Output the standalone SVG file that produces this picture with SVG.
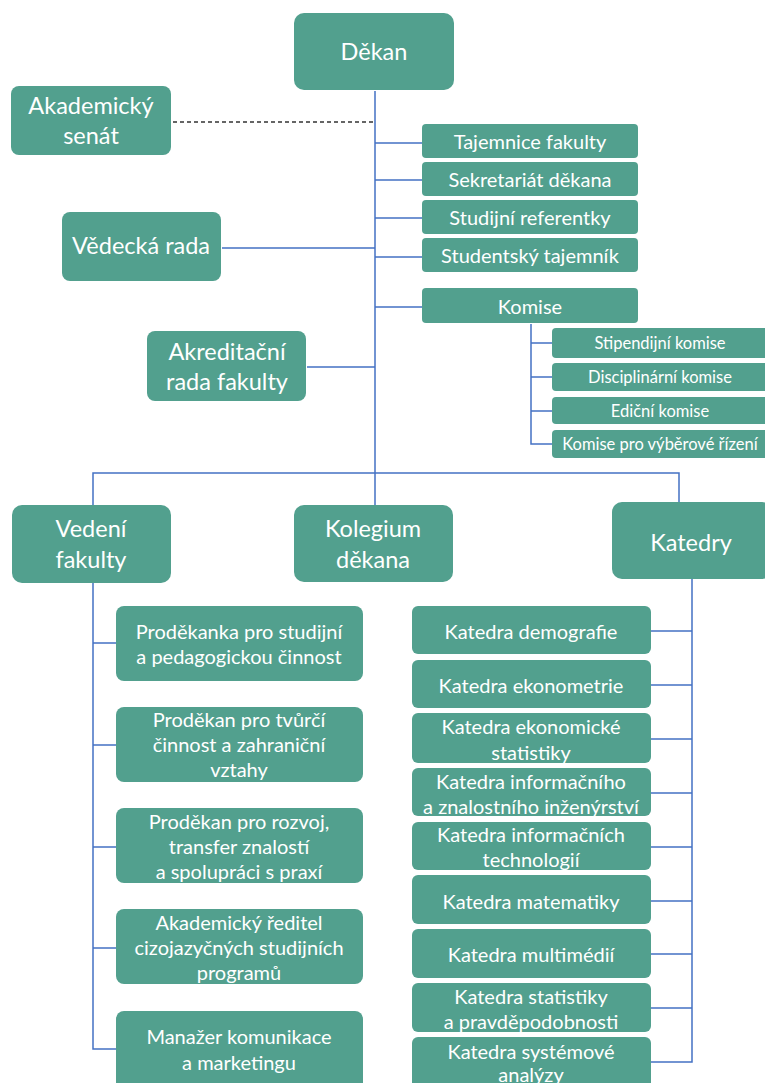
<svg xmlns="http://www.w3.org/2000/svg" width="765" height="1083" viewBox="0 0 765 1083">
<style>
.n{fill:#52A08E}
.t{fill:#fff;font-family:Lato,"Liberation Sans",sans-serif;text-anchor:middle}
.L{font-size:23.5px}
.M{font-size:20px}
.S{font-size:16.5px}
.c{stroke:#4472C4;stroke-width:1.5;fill:none}
</style>
<rect width="765" height="1083" fill="#fff"/>
<g id="connectors">
<path class="c" d="M375 91V505M222 248H375M307 367H375M375 143H422M375 180H422M375 218H422M375 257H422M375 307H422"/>
<path class="c" d="M531 324V444H552M531 343H552M531 377H552M531 411H552"/>
<path class="c" d="M93 505V473H679V502"/>
<path class="c" d="M93 583V1049H116M93 643H116M93 745H116M93 847H116M93 948H116"/>
<path class="c" d="M692 579V1062H651M651 631H692M651 685H692M651 739H692M651 793H692M651 847H692M651 901H692M651 954H692M651 1008H692"/>
<path d="M173 122H374" stroke="#333" stroke-width="1.5" stroke-dasharray="4 3" fill="none"/>
</g>
<g id="dekan"><rect class="n" x="294" y="13" width="160" height="77" rx="10"/><text class="t L" x="374" y="60">Děkan</text></g>
<g id="senat"><rect class="n" x="11" y="86" width="160" height="69" rx="8"/><text class="t L" x="91" y="114">Akademický</text><text class="t L" x="91" y="144">senát</text></g>
<g id="vedecka"><rect class="n" x="62" y="212" width="159" height="69" rx="8"/><text class="t L" x="141" y="254">Vědecká rada</text></g>
<g id="akreditacni"><rect class="n" x="147" y="331" width="159" height="70" rx="8"/><text class="t L" x="227" y="360">Akreditační</text><text class="t L" x="227" y="390">rada fakulty</text></g>
<g id="tajemnice"><rect class="n" x="422" y="124" width="216" height="34" rx="4"/><text class="t M" x="530" y="149">Tajemnice fakulty</text></g>
<g id="sekretariat"><rect class="n" x="422" y="162" width="216" height="34" rx="4"/><text class="t M" x="530" y="187">Sekretariát děkana</text></g>
<g id="referentky"><rect class="n" x="422" y="200" width="216" height="34" rx="4"/><text class="t M" x="530" y="225">Studijní referentky</text></g>
<g id="studtaj"><rect class="n" x="422" y="238" width="216" height="34" rx="4"/><text class="t M" x="530" y="263">Studentský tajemník</text></g>
<g id="komise"><rect class="n" x="422" y="288" width="216" height="35" rx="4"/><text class="t M" x="530" y="314">Komise</text></g>
<g id="stipendijni"><rect class="n" x="552" y="328" width="218" height="30" rx="4"/><text class="t S" x="660" y="349">Stipendijní komise</text></g>
<g id="disciplinarni"><rect class="n" x="552" y="363" width="218" height="28" rx="4"/><text class="t S" x="660" y="383">Disciplinární komise</text></g>
<g id="edicni"><rect class="n" x="552" y="397" width="218" height="27" rx="4"/><text class="t S" x="660" y="417">Ediční komise</text></g>
<g id="vyberove"><rect class="n" x="552" y="430" width="218" height="28" rx="4"/><text class="t S" x="660" y="450">Komise pro výběrové řízení</text></g>
<g id="vedeni"><rect class="n" x="12" y="505" width="159" height="78" rx="10"/><text class="t L" x="91" y="537">Vedení</text><text class="t L" x="91" y="568">fakulty</text></g>
<g id="kolegium"><rect class="n" x="294" y="505" width="159" height="77" rx="10"/><text class="t L" x="373" y="537">Kolegium</text><text class="t L" x="373" y="568">děkana</text></g>
<g id="katedry"><rect class="n" x="612" y="502" width="160" height="77" rx="10"/><text class="t L" x="691" y="551">Katedry</text></g>
<g id="v1"><rect class="n" x="116" y="606" width="247" height="75" rx="8"/><text class="t M" x="239" y="639">Proděkanka pro studijní</text><text class="t M" x="239" y="664">a pedagogickou činnost</text></g>
<g id="v2"><rect class="n" x="116" y="707" width="247" height="75" rx="8"/><text class="t M" x="239" y="727">Proděkan pro tvůrčí</text><text class="t M" x="239" y="752">činnost a zahraniční</text><text class="t M" x="239" y="777">vztahy</text></g>
<g id="v3"><rect class="n" x="116" y="808" width="247" height="75" rx="8"/><text class="t M" x="239" y="829">Proděkan pro rozvoj,</text><text class="t M" x="239" y="854">transfer znalostí</text><text class="t M" x="239" y="879">a spolupráci s praxí</text></g>
<g id="v4"><rect class="n" x="116" y="909" width="247" height="75" rx="8"/><text class="t M" x="239" y="930">Akademický ředitel</text><text class="t M" x="239" y="955">cizojazyčných studijních</text><text class="t M" x="239" y="980">programů</text></g>
<g id="v5"><rect class="n" x="116" y="1011" width="247" height="80" rx="8"/><text class="t M" x="239" y="1044">Manažer komunikace</text><text class="t M" x="239" y="1070">a marketingu</text></g>
<g id="k1"><rect class="n" x="412" y="606" width="239" height="48" rx="6"/><text class="t M" x="531" y="639">Katedra demografie</text></g>
<g id="k2"><rect class="n" x="412" y="660" width="239" height="48" rx="6"/><text class="t M" x="531" y="693">Katedra ekonometrie</text></g>
<g id="k3"><rect class="n" x="412" y="713" width="239" height="50" rx="6"/><text class="t M" x="531" y="734">Katedra ekonomické</text><text class="t M" x="531" y="760">statistiky</text></g>
<g id="k4"><rect class="n" x="412" y="768" width="239" height="48" rx="6"/><text class="t M" x="531" y="789">Katedra informačního</text><text class="t M" x="531" y="814">a znalostního inženýrství</text></g>
<g id="k5"><rect class="n" x="412" y="822" width="239" height="48" rx="6"/><text class="t M" x="531" y="842">Katedra informačních</text><text class="t M" x="531" y="867">technologií</text></g>
<g id="k6"><rect class="n" x="412" y="875" width="239" height="49" rx="6"/><text class="t M" x="531" y="909">Katedra matematiky</text></g>
<g id="k7"><rect class="n" x="412" y="929" width="239" height="49" rx="6"/><text class="t M" x="531" y="962">Katedra multimédií</text></g>
<g id="k8"><rect class="n" x="412" y="983" width="239" height="49" rx="6"/><text class="t M" x="531" y="1004">Katedra statistiky</text><text class="t M" x="531" y="1029">a pravděpodobnosti</text></g>
<g id="k9"><rect class="n" x="412" y="1037" width="239" height="55" rx="6"/><text class="t M" x="531" y="1059">Katedra systémové</text><text class="t M" x="531" y="1082">analýzy</text></g>
</svg>
